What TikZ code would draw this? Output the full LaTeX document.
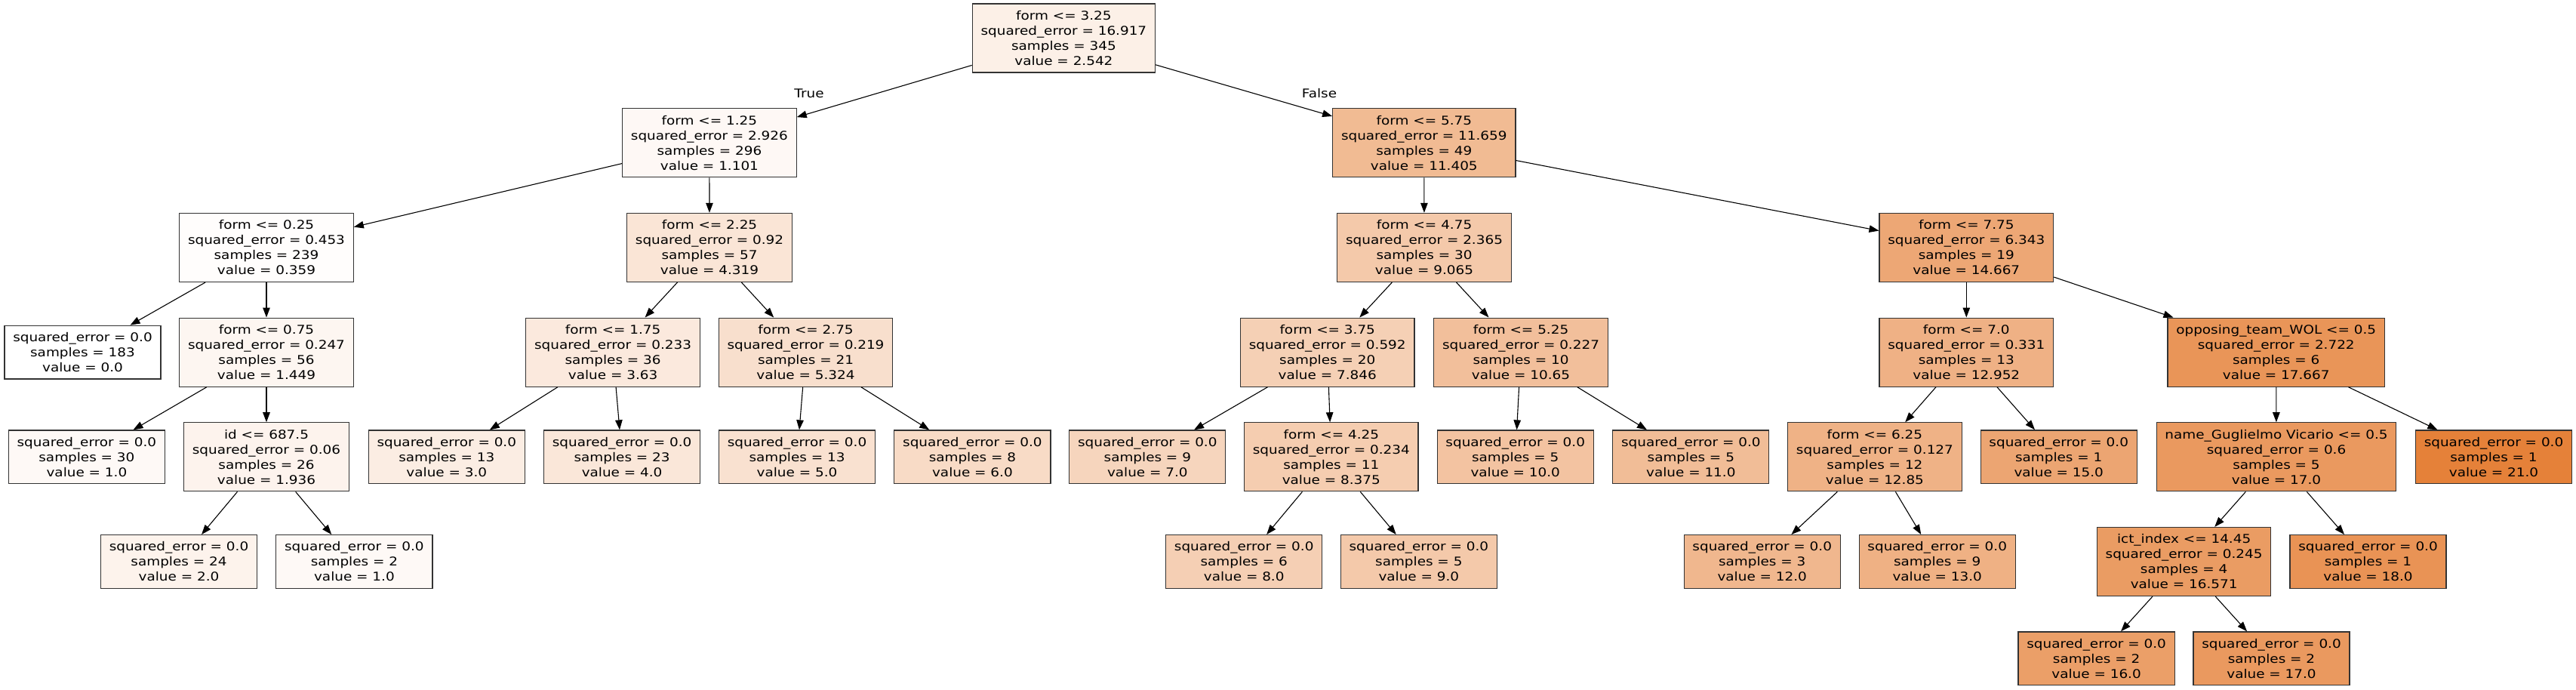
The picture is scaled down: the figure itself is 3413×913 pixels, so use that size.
\documentclass[tikz,border=0pt]{standalone}
\usepackage{fontspec}
\setmainfont{DejaVu Sans}[FakeStretch=1.15]
\usetikzlibrary{arrows.meta}
\definecolor{orng}{RGB}{229,129,57}
\tikzset{
  tn/.style={draw=black!80, line width=1.2pt, inner xsep=11.3pt, inner ysep=0pt,
    minimum height=91pt, align=center, font=\fontsize{16}{20}\selectfont},
  lf/.style={tn, minimum height=70.7pt},
  edge/.style={draw=black, line width=1.1pt, -{Triangle[length=13pt,width=9.5pt]}},
  elab/.style={font=\fontsize{16}{20}\selectfont, inner sep=0pt}
}
\begin{document}
\begin{tikzpicture}[x=1pt,y=-1pt]
\useasboundingbox (0,0) rectangle (3413,913);
\def\La{50.5}\def\Lb{189.2}\def\Lc{327.9}\def\Ld{466.6}\def\Le{605.3}\def\Lf{744}\def\Lg{872.3}
% level 0
\node[tn, fill=orng!12.1!white] (n0) at (1409.4,\La) {form <= 3.25\\squared\_error = 16.917\\samples = 345\\value = 2.542};
% level 1
\node[tn, fill=orng!5.24!white] (n1) at (939.9,\Lb) {form <= 1.25\\squared\_error = 2.926\\samples = 296\\value = 1.101};
\node[tn, fill=orng!54.31!white] (n2) at (1886.8,\Lb) {form <= 5.75\\squared\_error = 11.659\\samples = 49\\value = 11.405};
% level 2
\node[tn, fill=orng!1.71!white] (n3) at (353,\Lc) {form <= 0.25\\squared\_error = 0.453\\samples = 239\\value = 0.359};
\node[tn, fill=orng!20.57!white] (n4) at (940,\Lc) {form <= 2.25\\squared\_error = 0.92\\samples = 57\\value = 4.319};
\node[tn, fill=orng!43.17!white] (n5) at (1887,\Lc) {form <= 4.75\\squared\_error = 2.365\\samples = 30\\value = 9.065};
\node[tn, fill=orng!69.84!white] (n6) at (2605.3,\Lc) {form <= 7.75\\squared\_error = 6.343\\samples = 19\\value = 14.667};
% level 3
\node[lf, fill=white] (n7) at (109.5,\Ld) {squared\_error = 0.0\\samples = 183\\value = 0.0};
\node[tn, fill=orng!6.9!white] (n8) at (353,\Ld) {form <= 0.75\\squared\_error = 0.247\\samples = 56\\value = 1.449};
\node[tn, fill=orng!17.29!white] (n9) at (812.1,\Ld) {form <= 1.75\\squared\_error = 0.233\\samples = 36\\value = 3.63};
\node[tn, fill=orng!25.35!white] (n10) at (1067.5,\Ld) {form <= 2.75\\squared\_error = 0.219\\samples = 21\\value = 5.324};
\node[tn, fill=orng!37.36!white] (n11) at (1758.7,\Ld) {form <= 3.75\\squared\_error = 0.592\\samples = 20\\value = 7.846};
\node[tn, fill=orng!50.71!white] (n12) at (2015,\Ld) {form <= 5.25\\squared\_error = 0.227\\samples = 10\\value = 10.65};
\node[tn, fill=orng!61.68!white] (n13) at (2605.3,\Ld) {form <= 7.0\\squared\_error = 0.331\\samples = 13\\value = 12.952};
\node[tn, fill=orng!84.13!white] (n14) at (3015.7,\Ld) {opposing\_team\_WOL <= 0.5\\squared\_error = 2.722\\samples = 6\\value = 17.667};
% level 4
\node[lf, fill=orng!4.76!white] (n15) at (114.9,\Le) {squared\_error = 0.0\\samples = 30\\value = 1.0};
\node[tn, fill=orng!9.22!white] (n16) at (353,\Le) {id <= 687.5\\squared\_error = 0.06\\samples = 26\\value = 1.936};
\node[lf, fill=orng!14.29!white] (n17) at (591.8,\Le) {squared\_error = 0.0\\samples = 13\\value = 3.0};
\node[lf, fill=orng!19.05!white] (n18) at (824.1,\Le) {squared\_error = 0.0\\samples = 23\\value = 4.0};
\node[lf, fill=orng!23.81!white] (n19) at (1056,\Le) {squared\_error = 0.0\\samples = 13\\value = 5.0};
\node[lf, fill=orng!28.57!white] (n20) at (1288.4,\Le) {squared\_error = 0.0\\samples = 8\\value = 6.0};
\node[lf, fill=orng!33.33!white] (n21) at (1520.3,\Le) {squared\_error = 0.0\\samples = 9\\value = 7.0};
\node[tn, fill=orng!39.88!white] (n22) at (1763.8,\Le) {form <= 4.25\\squared\_error = 0.234\\samples = 11\\value = 8.375};
\node[lf, fill=orng!47.62!white] (n23) at (2007.7,\Le) {squared\_error = 0.0\\samples = 5\\value = 10.0};
\node[lf, fill=orng!52.38!white] (n24) at (2240.3,\Le) {squared\_error = 0.0\\samples = 5\\value = 11.0};
\node[tn, fill=orng!61.19!white] (n25) at (2483.9,\Le) {form <= 6.25\\squared\_error = 0.127\\samples = 12\\value = 12.85};
\node[lf, fill=orng!71.43!white] (n26) at (2727.7,\Le) {squared\_error = 0.0\\samples = 1\\value = 15.0};
\node[tn, fill=orng!80.95!white] (n27) at (3016,\Le) {name\_Guglielmo Vicario <= 0.5\\squared\_error = 0.6\\samples = 5\\value = 17.0};
\node[lf, fill=orng] (n28) at (3304,\Le) {squared\_error = 0.0\\samples = 1\\value = 21.0};
% level 5
\node[lf, fill=orng!9.52!white] (n29) at (237,\Lf) {squared\_error = 0.0\\samples = 24\\value = 2.0};
\node[lf, fill=orng!4.76!white] (n30) at (469.4,\Lf) {squared\_error = 0.0\\samples = 2\\value = 1.0};
\node[lf, fill=orng!38.1!white] (n31) at (1648.2,\Lf) {squared\_error = 0.0\\samples = 6\\value = 8.0};
\node[lf, fill=orng!42.86!white] (n32) at (1879.8,\Lf) {squared\_error = 0.0\\samples = 5\\value = 9.0};
\node[lf, fill=orng!57.14!white] (n33) at (2334.7,\Lf) {squared\_error = 0.0\\samples = 3\\value = 12.0};
\node[lf, fill=orng!61.9!white] (n34) at (2566.7,\Lf) {squared\_error = 0.0\\samples = 9\\value = 13.0};
\node[tn, fill=orng!78.91!white] (n35) at (2893.6,\Lf) {ict\_index <= 14.45\\squared\_error = 0.245\\samples = 4\\value = 16.571};
\node[lf, fill=orng!85.71!white] (n36) at (3137.5,\Lf) {squared\_error = 0.0\\samples = 1\\value = 18.0};
% level 6
\node[lf, fill=orng!76.19!white] (n37) at (2777.6,\Lg) {squared\_error = 0.0\\samples = 2\\value = 16.0};
\node[lf, fill=orng!80.95!white] (n38) at (3009.5,\Lg) {squared\_error = 0.0\\samples = 2\\value = 17.0};
% edges
\foreach \a/\b in {n0/n1,n0/n2,n1/n3,n1/n4,n2/n5,n2/n6,n3/n7,n3/n8,n4/n9,n4/n10,
  n5/n11,n5/n12,n6/n13,n6/n14,n8/n15,n8/n16,n9/n17,n9/n18,n10/n19,n10/n20,
  n11/n21,n11/n22,n12/n23,n12/n24,n13/n25,n13/n26,n14/n27,n14/n28,n16/n29,n16/n30,
  n22/n31,n22/n32,n25/n33,n25/n34,n27/n35,n27/n36,n35/n37,n35/n38}
  \draw[edge] (\a) -- (\b);
% edge labels
\node[elab] (ltrue) at (1072,123.5) {True};
\node[elab] (lfalse) at (1748,123.5) {False};
\end{tikzpicture}
\end{document}
